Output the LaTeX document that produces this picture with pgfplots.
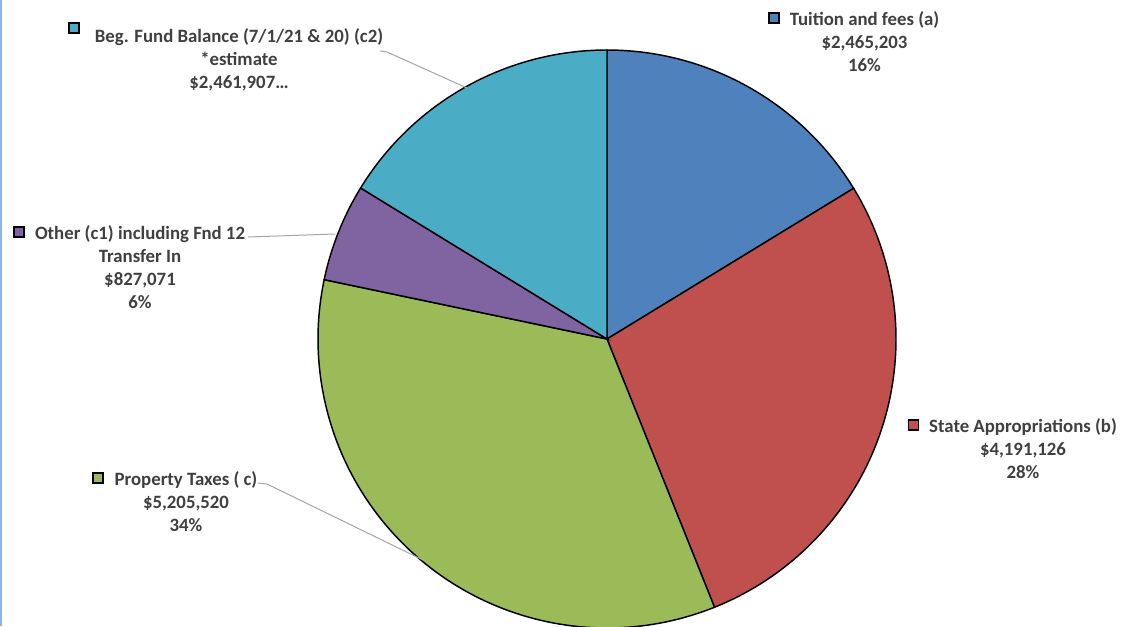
\documentclass[border=0pt]{standalone}
\usepackage{pgfplots}
\pgfplotsset{compat=1.18}
\usepackage{fontspec}
\setmainfont{Carlito}
\definecolor{ctuit}{HTML}{4F81BD}
\definecolor{cstate}{HTML}{C0504D}
\definecolor{cprop}{HTML}{9BBB59}
\definecolor{cother}{HTML}{8064A2}
\definecolor{cbeg}{HTML}{4BACC6}
\definecolor{ctext}{HTML}{404040}
\definecolor{clead}{HTML}{A6A6A6}
\definecolor{cborder}{HTML}{8EB4E3}
% values
\def\vTuit{2465203}
\def\vState{4191126}
\def\vProp{5205520}
\def\vOther{827071}
\def\vBeg{2461907}
\edef\vTot{\fpeval{\vTuit+\vState+\vProp+\vOther+\vBeg}}
\edef\aA{90}
\edef\aB{\fpeval{\aA-360*\vTuit/\vTot}}
\edef\aC{\fpeval{\aB-360*\vState/\vTot}}
\edef\aD{\fpeval{\aC-360*\vProp/\vTot}}
\edef\aE{\fpeval{\aD-360*\vOther/\vTot}}
\edef\aF{\fpeval{\aE-360*\vBeg/\vTot}}
\begin{document}
\begin{tikzpicture}
\begin{axis}[x=0.75pt, y=0.75pt, xmin=0, xmax=1124, ymin=0, ymax=626,
  hide axis, scale only axis, clip=true,
  nodes={font=\fontsize{14.1}{17.3}\selectfont\bfseries, text=ctext, align=center, inner sep=0pt}]
\addplot[fill=ctuit, draw=black, line width=1.1pt, domain=\aB:\aA, samples=80, variable=\t]
  ({607+289*cos(\t)}, {287+289*sin(\t)}) -- (axis cs:607,287) -- cycle;
\addplot[fill=cstate, draw=black, line width=1.1pt, domain=\aC:\aB, samples=120, variable=\t]
  ({607+289*cos(\t)}, {287+289*sin(\t)}) -- (axis cs:607,287) -- cycle;
\addplot[fill=cprop, draw=black, line width=1.1pt, domain=\aD:\aC, samples=140, variable=\t]
  ({607+289*cos(\t)}, {287+289*sin(\t)}) -- (axis cs:607,287) -- cycle;
\addplot[fill=cother, draw=black, line width=1.1pt, domain=\aE:\aD, samples=40, variable=\t]
  ({607+289*cos(\t)}, {287+289*sin(\t)}) -- (axis cs:607,287) -- cycle;
\addplot[fill=cbeg, draw=black, line width=1.1pt, domain=\aF:\aE, samples=80, variable=\t]
  ({607+289*cos(\t)}, {287+289*sin(\t)}) -- (axis cs:607,287) -- cycle;
% leader lines
\addplot[clead, line width=0.75pt, no marks] coordinates {(380,575) (387,574) (467,538)};
\addplot[clead, line width=0.75pt, no marks] coordinates {(248,389) (335,392)};
\addplot[clead, line width=0.75pt, no marks] coordinates {(258,143) (267,142) (423,66)};
% legend keys
\addplot[only marks, mark=square*, mark size=3.75pt, mark options={fill=ctuit, draw=black, line width=0.9pt}] coordinates {(774,608)};
\addplot[only marks, mark=square*, mark size=3.75pt, mark options={fill=cstate, draw=black, line width=0.9pt}] coordinates {(913.5,201)};
\addplot[only marks, mark=square*, mark size=3.75pt, mark options={fill=cprop, draw=black, line width=0.9pt}] coordinates {(98,148)};
\addplot[only marks, mark=square*, mark size=3.75pt, mark options={fill=cother, draw=black, line width=0.9pt}] coordinates {(19,394)};
\addplot[only marks, mark=square*, mark size=3.75pt, mark options={fill=cbeg, draw=black, line width=0.9pt}] coordinates {(74,598)};
% labels
\node at (axis cs:864.5,584) {Tuition and fees (a)\\\$2,465,203\\16\%};
\node at (axis cs:1023,177) {State Appropriations (b)\\\$4,191,126\\28\%};
\node at (axis cs:186,124) {Property Taxes ( c)\\\$5,205,520\\34\%};
\node at (axis cs:140,359) {Other (c1) including Fnd 12\\Transfer In\\\$827,071\\6\%};
\node at (axis cs:239,566) {Beg. Fund Balance (7/1/21 \& 20) (c2)\\*estimate\\\$2,461,907\ldots};
% left border
\addplot[cborder, line width=1pt, no marks] coordinates {(1,0) (1,626)};
\coordinate (bbSW) at (axis cs:0,0);
\coordinate (bbNE) at (axis cs:1124,626);
\end{axis}
\pgfresetboundingbox
\path[use as bounding box] (bbSW) rectangle (bbNE);
\end{tikzpicture}
\end{document}
